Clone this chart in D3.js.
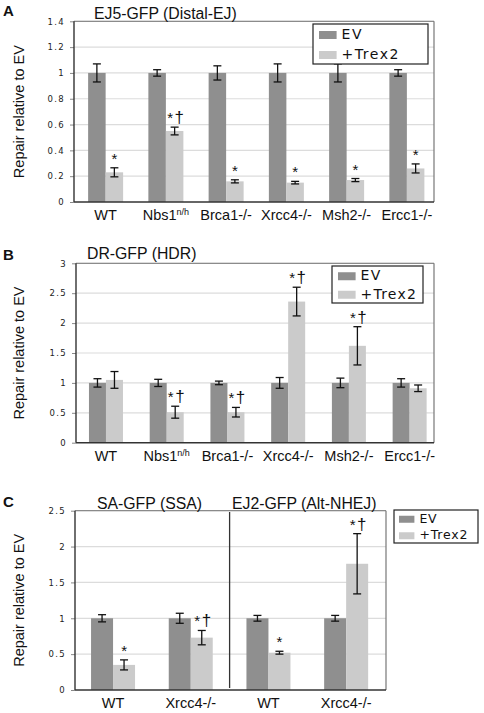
<!DOCTYPE html>
<html><head><meta charset="utf-8">
<script src="https://cdn.jsdelivr.net/npm/d3@7"></script>
<style>body{margin:0;background:#fff}svg{display:block}</style>
</head><body>
<script>
// ---------- DATA ----------
const seriesNames = ["EV", "+Trex2"];
const categoriesAB = ["WT", "Nbs1", "Brca1-/-", "Xrcc4-/-", "Msh2-/-", "Ercc1-/-"];
const categoriesC = ["WT", "Xrcc4-/-", "WT", "Xrcc4-/-"];

const evA = [1, 1, 1, 1, 1, 1];
const evErrA = [0.07, 0.025, 0.055, 0.07, 0.07, 0.025];
const trexA = [0.23, 0.55, 0.16, 0.15, 0.17, 0.26];
const trexErrA = [0.035, 0.03, 0.012, 0.01, 0.012, 0.035];
const markA = ["*", "*†", "*", "*", "*", "*"];

const evB = [1, 1, 1, 1, 1, 1];
const evErrB = [0.07, 0.06, 0.03, 0.09, 0.08, 0.07];
const trexB = [1.05, 0.51, 0.51, 2.36, 1.62, 0.91];
const trexErrB = [0.14, 0.1, 0.08, 0.24, 0.32, 0.055];
const markB = ["", "*†", "*†", "*†", "*†", ""];

const evC = [1, 1, 1, 1];
const evErrC = [0.05, 0.07, 0.04, 0.04];
const trexC = [0.35, 0.73, 0.52, 1.76];
const trexErrC = [0.07, 0.1, 0.02, 0.42];
const markC = ["*", "*†", "*", "*†"];

const ticksA = [0, 0.2, 0.4, 0.6, 0.8, 1, 1.2, 1.4];
const ticksB = [0, 0.5, 1, 1.5, 2, 2.5, 3];
const ticksC = [0, 0.5, 1, 1.5, 2, 2.5];

const titleA = "EJ5-GFP (Distal-EJ)";
const titleB = "DR-GFP (HDR)";
const titlesC = ["SA-GFP (SSA)", "EJ2-GFP (Alt-NHEJ)"];
const yLabel = "Repair relative to EV";

// ---------- STYLE ----------
const colEV = "#8f8f8f", colTrex = "#cbcbcb";
const W = 484, H = 713;
const svg = d3.select("body").append("svg").attr("width", W).attr("height", H);

function panel(o) {
  const g = svg.append("g");
  const y = d3.scaleLinear().domain([0, o.ymax]).range([o.bottom, o.top]);
  const x0 = d3.scaleBand().domain(d3.range(o.cats.length)).range(o.bandRange).padding(0);
  const x1 = d3.scaleBand().domain(seriesNames).range([-o.barW, o.barW]);

  g.selectAll(".grid").data(o.ticks.filter(t => t > 0)).join("line")
    .attr("x1", o.left).attr("x2", o.right)
    .attr("y1", d => y(d)).attr("y2", d => y(d))
    .attr("stroke", "#dcdcdc").attr("stroke-width", 1.2);

  const ax = d3.axisLeft(y).tickValues(o.ticks).tickSize(4).tickPadding(5)
    .tickFormat(d => String(d));
  const axg = g.append("g").attr("transform", `translate(${o.left},0)`).call(ax);
  axg.select(".domain").remove();
  axg.selectAll(".tick line").attr("stroke", "#888");
  axg.selectAll(".tick text").attr("font-family", "DejaVu Sans").attr("font-size", 8.5)
    .attr("letter-spacing", "1.3px").attr("fill", "#222");

  const data = o.cats.map((c, i) => ({i, vals: [
    {k: "EV", v: o.ev[i], e: o.evErr[i]},
    {k: "+Trex2", v: o.trex[i], e: o.trexErr[i], m: o.marks[i]}]}));
  const grp = g.selectAll(".grp").data(data).join("g")
    .attr("transform", d => `translate(${x0(d.i) + x0.bandwidth() / 2},0)`);
  grp.selectAll("rect").data(d => d.vals).join("rect")
    .attr("x", d => x1(d.k)).attr("width", x1.bandwidth())
    .attr("y", d => y(d.v)).attr("height", d => y(0) - y(d.v))
    .attr("fill", d => d.k === "EV" ? colEV : colTrex);
  const eb = grp.selectAll(".eb").data(d => d.vals).join("g")
    .attr("transform", d => `translate(${x1(d.k) + x1.bandwidth() / 2},0)`);
  eb.append("line").attr("x1", 0).attr("x2", 0)
    .attr("y1", d => y(d.v - d.e)).attr("y2", d => y(d.v + d.e));
  eb.append("line").attr("x1", -4).attr("x2", 4)
    .attr("y1", d => y(d.v + d.e)).attr("y2", d => y(d.v + d.e));
  eb.append("line").attr("x1", -4).attr("x2", 4)
    .attr("y1", d => y(d.v - d.e)).attr("y2", d => y(d.v - d.e));
  eb.selectAll("line").attr("stroke", "#111").attr("stroke-width", 1.3);
  eb.filter(d => d.m).append("text")
    .attr("x", d => d.m.length > 1 ? 1 : 0)
    .attr("y", d => y(d.v + d.e) - 4)
    .attr("text-anchor", "middle")
    .attr("font-family", "Liberation Sans").attr("font-size", d => d.m.length > 1 ? 17 : 15)
    .attr("fill", "#111")
    .each(function(d) {
      const t = d3.select(this);
      if (d.m.length > 1) {
        t.append("tspan").text("*").attr("font-size", 15);
        t.append("tspan").text("†").attr("dx", 1.5);
      } else t.text(d.m);
    });

  g.append("line").attr("x1", o.left).attr("x2", o.right).attr("y1", o.top).attr("y2", o.top).attr("stroke", "#777").attr("stroke-width", 1);
  g.append("line").attr("x1", o.right).attr("x2", o.right).attr("y1", o.top).attr("y2", o.bottom).attr("stroke", "#777").attr("stroke-width", 1.2);
  g.append("line").attr("x1", o.left).attr("x2", o.left).attr("y1", o.top).attr("y2", o.bottom).attr("stroke", "#333").attr("stroke-width", 1.4);
  g.append("line").attr("x1", o.left).attr("x2", o.right).attr("y1", o.bottom).attr("y2", o.bottom).attr("stroke", "#333").attr("stroke-width", 1.4);

  const xl = g.selectAll(".xl").data(o.cats).join("text")
    .attr("x", (d, i) => x0(i) + x0.bandwidth() / 2)
    .attr("y", o.bottom + 18)
    .attr("text-anchor", "middle")
    .attr("font-family", "Liberation Sans").attr("font-size", 14.5).attr("fill", "#111");
  xl.each(function(d) {
    const t = d3.select(this);
    if (d === "Nbs1") { t.append("tspan").text("Nbs1"); t.append("tspan").text("n/h").attr("font-size", 9).attr("dy", -5); }
    else t.text(d);
  });

  g.append("text").attr("transform", `translate(${o.yLabelX},${(o.top + o.bottom) / 2}) rotate(-90)`)
    .attr("text-anchor", "middle").attr("font-family", "Liberation Sans").attr("font-size", 14.5)
    .attr("fill", "#111").text(yLabel);

  g.append("text").attr("x", 3).attr("y", o.letterY).attr("text-anchor", "start").attr("font-family", "Liberation Sans")
    .attr("font-weight", "bold").attr("font-size", 15).attr("fill", "#111").text(o.letter);

  const L = o.legend;
  g.append("rect").attr("x", L.x).attr("y", L.y).attr("width", L.w).attr("height", L.h)
    .attr("fill", "#fff").attr("stroke", "#222").attr("stroke-width", 1.2);
  seriesNames.forEach((s, i) => {
    const cy = L.y + L.h * (i + 0.5) / 2;
    g.append("rect").attr("x", L.x + L.pad).attr("y", cy - L.sw / 2 + 1).attr("width", L.sw * 2.2).attr("height", L.sw)
      .attr("fill", i === 0 ? colEV : colTrex);
    g.append("text").attr("x", L.x + L.pad + L.sw * 2.2 + 5).attr("y", cy).attr("dy", "0.36em")
      .attr("text-anchor", "start")
      .attr("font-family", "DejaVu Sans").attr("font-size", L.fs).attr("letter-spacing", L.ls)
      .attr("fill", "#111").text(s);
  });
  g.selectAll(".ttl").data(o.titles).join("text")
    .attr("x", (d, i) => o.titleX[i]).attr("y", o.titleY)
    .attr("text-anchor", "start")
    .attr("font-family", "Liberation Sans").attr("font-size", 15.8).attr("fill", "#111")
    .text(d => d);
  return {g, y, x0};
}

panel({cats: categoriesAB, ev: evA, evErr: evErrA, trex: trexA, trexErr: trexErrA, marks: markA,
  ymax: 1.4, ticks: ticksA, left: 74, right: 434, top: 21.3, bottom: 202, bandRange: [75.5, 437], barW: 17.5,
  yLabelX: 24, letter: "A", letterY: 16, titles: [titleA], titleX: [94], titleY: 18.5,
  legend: {x: 313, y: 24, w: 115, h: 40, pad: 6, sw: 8, fs: 14, ls: "1.5px"}});

panel({cats: categoriesAB, ev: evB, evErr: evErrB, trex: trexB, trexErr: trexErrB, marks: markB,
  ymax: 3, ticks: ticksB, left: 76, right: 434, top: 263.3, bottom: 442.7, bandRange: [75.6, 440], barW: 17,
  yLabelX: 24, letter: "B", letterY: 260, titles: [titleB], titleX: [87], titleY: 259,
  legend: {x: 332, y: 266, w: 91, h: 37, pad: 6, sw: 8, fs: 14, ls: "1.2px"}});

const pC = panel({cats: categoriesC, ev: evC, evErr: evErrC, trex: trexC, trexErr: trexErrC, marks: markC,
  ymax: 2.5, ticks: ticksC, left: 75, right: 386, top: 510.7, bottom: 690, bandRange: [74.2, 385], barW: 22,
  yLabelX: 24, letter: "C", letterY: 507, titles: titlesC, titleX: [97, 232], titleY: 509,
  legend: {x: 394, y: 510, w: 84, h: 33, pad: 5, sw: 7, fs: 12.5, ls: "0.8px"}});
const divX = (pC.x0(1) + pC.x0(2) + pC.x0.bandwidth()) / 2;
pC.g.append("line").attr("x1", divX).attr("x2", divX)
  .attr("y1", 512).attr("y2", 688).attr("stroke", "#333").attr("stroke-width", 1.3);
</script>
</body></html>
